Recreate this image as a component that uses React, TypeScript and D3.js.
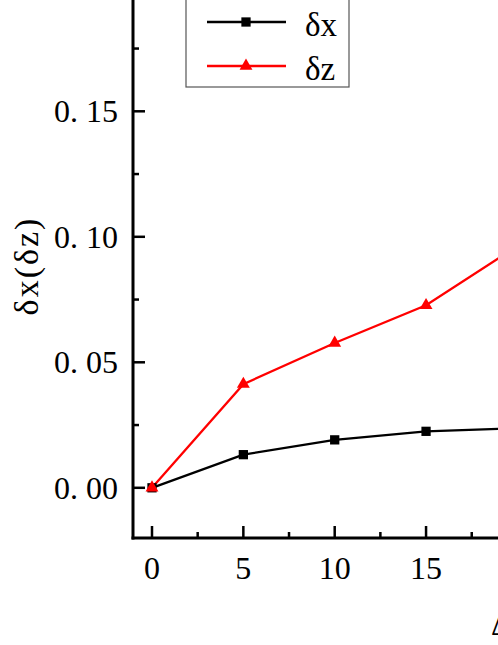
import React from "react";
import * as d3 from "d3";

const xValues = [0, 5, 10, 15, 20];
const deltaX = [0, 0.0132, 0.0191, 0.0225, 0.0237];
const deltaZ = [0, 0.0413, 0.0577, 0.0727, 0.0963];
const xMajorTicks = [0, 5, 10, 15, 20, 25];
const xMinorTicks = [2.5, 7.5, 12.5, 17.5, 22.5];
const xTickLabels = ["0", "5", "10", "15"];
const yMajorTicks = [0, 0.05, 0.1, 0.15];
const yMinorTicks = [0.025, 0.075, 0.125, 0.175];
const yTickLabels = ["0. 00", "0. 05", "0. 10", "0. 15"];
const seriesNames = ["δx", "δz"];

const W = 498;
const H = 645;
const FONT = "'Liberation Serif', 'DejaVu Serif', serif";

export default function App() {
  const x = d3.scaleLinear().domain([-1.04, 30]).range([133, 133 + 31.04 * 18.27]);
  const y = d3.scaleLinear().domain([-0.02, 0.2]).range([538, 538 - 0.22 * 2510]);
  const line = d3
    .line<number>()
    .x((_, i) => x(xValues[i]))
    .y((d) => y(d));
  const axisLeft = x(-1.04);
  const axisBottom = y(-0.02);
  const tri = d3.symbol().type(d3.symbolTriangle).size(72)();
  const sq = d3.symbol().type(d3.symbolSquare).size(86)();

  return (
    <svg
      width={W}
      height={H}
      style={{ position: "absolute", left: 0, top: 0, display: "block", background: "#fff" }}
    >
      <rect x={0} y={0} width={W} height={H} fill="#fff" />
      {/* data lines */}
      <path d={line(deltaX) || ""} fill="none" stroke="#000" strokeWidth={2.3} />
      <path d={line(deltaZ) || ""} fill="none" stroke="#ff0000" strokeWidth={2.3} />
      {deltaX.map((v, i) => (
        <path key={"sx" + i} d={sq || ""} transform={`translate(${x(xValues[i])},${y(v)})`} fill="#000" />
      ))}
      {deltaZ.map((v, i) => (
        <path key={"tz" + i} d={tri || ""} transform={`translate(${x(xValues[i])},${y(v)})`} fill="#ff0000" />
      ))}

      {/* axes */}
      <line x1={axisLeft} x2={axisLeft} y1={-20} y2={axisBottom + 1.5} stroke="#000" strokeWidth={3} />
      <line x1={axisLeft - 1.5} x2={W + 20} y1={axisBottom} y2={axisBottom} stroke="#000" strokeWidth={3} />

      {yMajorTicks.map((t, i) => (
        <g key={"ym" + i}>
          <line x1={axisLeft} x2={axisLeft + 12} y1={y(t)} y2={y(t)} stroke="#000" strokeWidth={2.5} />
          <text
            x={118}
            y={y(t) + 11}
            textAnchor="end"
            fontFamily={FONT}
            fontSize={32}
            fill="#000"
          >
            {yTickLabels[i]}
          </text>
        </g>
      ))}
      {yMinorTicks.map((t, i) => (
        <line key={"yn" + i} x1={axisLeft} x2={axisLeft + 6} y1={y(t)} y2={y(t)} stroke="#000" strokeWidth={2.5} />
      ))}
      {xMajorTicks.map((t, i) => (
        <g key={"xm" + i}>
          <line x1={x(t)} x2={x(t)} y1={axisBottom} y2={axisBottom - 12} stroke="#000" strokeWidth={2.5} />
          {i < xTickLabels.length && (
            <text x={x(t)} y={579} textAnchor="middle" fontFamily={FONT} fontSize={32} fill="#000">
              {xTickLabels[i]}
            </text>
          )}
        </g>
      ))}
      {xMinorTicks.map((t, i) => (
        <line key={"xn" + i} x1={x(t)} x2={x(t)} y1={axisBottom} y2={axisBottom - 6} stroke="#000" strokeWidth={2.5} />
      ))}

      {/* axis titles */}
      <text
        transform="translate(38,266) rotate(-90)"
        textAnchor="middle"
        fontFamily={FONT}
        fontSize={34}
        letterSpacing={2}
        fill="#000"
      >
        δx(δz)
      </text>
      <text x={491} y={635} fontFamily={FONT} fontSize={32} fill="#000">
        ΔT
      </text>

      {/* legend */}
      <rect x={186} y={-20} width={163} height={107} fill="#fff" stroke="#555" strokeWidth={1.2} />
      <line x1={207} x2={286} y1={22} y2={22} stroke="#000" strokeWidth={2.3} />
      <path d={sq || ""} transform="translate(246,22)" fill="#000" />
      <text x={305} y={36} fontFamily={FONT} fontSize={33} fill="#000">
        {seriesNames[0]}
      </text>
      <line x1={207} x2={286} y1={66} y2={66} stroke="#ff0000" strokeWidth={2.3} />
      <path d={tri || ""} transform="translate(246,66)" fill="#ff0000" />
      <text x={305} y={80} fontFamily={FONT} fontSize={33} fill="#000">
        {seriesNames[1]}
      </text>
    </svg>
  );
}
